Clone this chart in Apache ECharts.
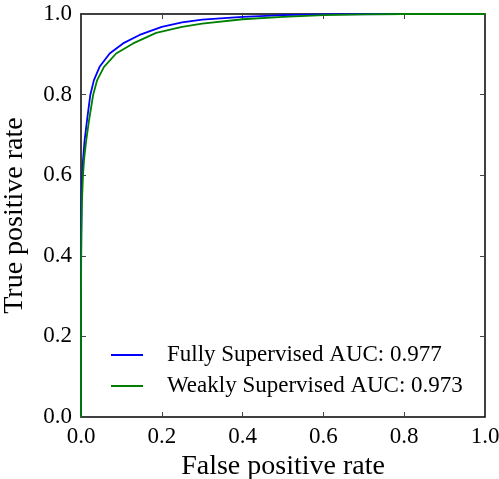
<!DOCTYPE html>
<html><head><meta charset="utf-8">
<script src="https://cdn.jsdelivr.net/npm/echarts@6/dist/echarts.min.js"></script>
<style>html,body{margin:0;padding:0;background:#fff}#c{width:499px;height:479px}</style>
</head><body><div id="c"></div>
<script>
const xTicks = [0.0, 0.2, 0.4, 0.6, 0.8, 1.0];
const yTicks = [0.0, 0.2, 0.4, 0.6, 0.8, 1.0];
const seriesNames = ['Fully Supervised AUC: 0.977', 'Weakly Supervised AUC: 0.973'];
const fullyFpr = [0, 0, 0.0005, 0.001, 0.002, 0.003, 0.005, 0.009, 0.015, 0.023, 0.032, 0.046, 0.071, 0.104, 0.145, 0.2, 0.25, 0.3, 0.4, 0.5, 0.6, 0.8, 1.0];
const fullyTpr = [0, 0.3, 0.45, 0.52, 0.57, 0.6, 0.638, 0.687, 0.737, 0.799, 0.836, 0.869, 0.902, 0.927, 0.948, 0.968, 0.979, 0.986, 0.993, 0.997, 0.999, 1.0, 1.0];
const weakFpr = [0, 0, 0.0005, 0.001, 0.0025, 0.005, 0.0075, 0.013, 0.02, 0.03, 0.04, 0.057, 0.087, 0.129, 0.186, 0.25, 0.3, 0.4, 0.5, 0.6, 0.7, 0.8, 1.0];
const weakTpr = [0, 0.3, 0.4, 0.45, 0.538, 0.6, 0.638, 0.687, 0.737, 0.799, 0.836, 0.869, 0.902, 0.927, 0.953, 0.968, 0.976, 0.987, 0.993, 0.997, 0.999, 1.0, 1.0];

const font = 'Liberation Serif';
const zip = (a, b) => a.map((v, i) => [v, b[i]]);
const chart = echarts.init(document.getElementById('c'));
const fmt = v => v.toFixed(1);
const baseAxis = {
  type: 'value', min: xTicks[0], max: xTicks[xTicks.length - 1], interval: 0.2,
  axisLine: { show: true, onZero: false, lineStyle: { color: '#000', width: 1.5 } },
  axisTick: { show: true, inside: true, length: 5, lineStyle: { color: '#444', width: 1 } },
  splitLine: { show: false }
};
chart.setOption({
  animation: false,
  backgroundColor: '#fff',
  grid: { left: 81, right: 14, top: 14, bottom: 62, containLabel: false, outerBoundsMode: 'none' },
  xAxis: [
    Object.assign({}, baseAxis, {
      position: 'bottom', name: 'False positive rate', nameLocation: 'middle', nameGap: 33,
      nameTextStyle: { fontFamily: font, fontSize: 28, color: '#000' },
      axisLabel: { formatter: fmt, fontFamily: font, fontSize: 23, color: '#000', margin: 8 }
    }),
    Object.assign({}, baseAxis, { position: 'top', axisLabel: { show: false } })
  ],
  yAxis: [
    Object.assign({}, baseAxis, {
      position: 'left', name: 'True positive rate', nameLocation: 'middle', nameGap: 52,
      nameTextStyle: { fontFamily: font, fontSize: 28, color: '#000' },
      axisLabel: { formatter: fmt, fontFamily: font, fontSize: 23, color: '#000', margin: 9 }
    }),
    Object.assign({}, baseAxis, { position: 'right', axisLabel: { show: false } })
  ],
  legend: {
    left: 111, top: 343.5, orient: 'vertical', padding: 0, icon: 'rect',
    itemWidth: 32, itemHeight: 2, itemGap: 8,
    textStyle: { fontFamily: font, fontSize: 23, lineHeight: 23, color: '#000', padding: [0, 0, 0, 19] },
    data: seriesNames
  },
  series: [
    { name: seriesNames[0], type: 'line', xAxisIndex: 0, yAxisIndex: 0, data: zip(fullyFpr, fullyTpr), symbol: 'none',
      smooth: false,
      lineStyle: { color: '#0000ff', width: 1.8 }, itemStyle: { color: '#0000ff' } },
    { name: seriesNames[1], type: 'line', xAxisIndex: 0, yAxisIndex: 0, data: zip(weakFpr, weakTpr), symbol: 'none',
      smooth: false,
      lineStyle: { color: '#008000', width: 1.8 }, itemStyle: { color: '#008000' } }
  ]
});
</script></body></html>
